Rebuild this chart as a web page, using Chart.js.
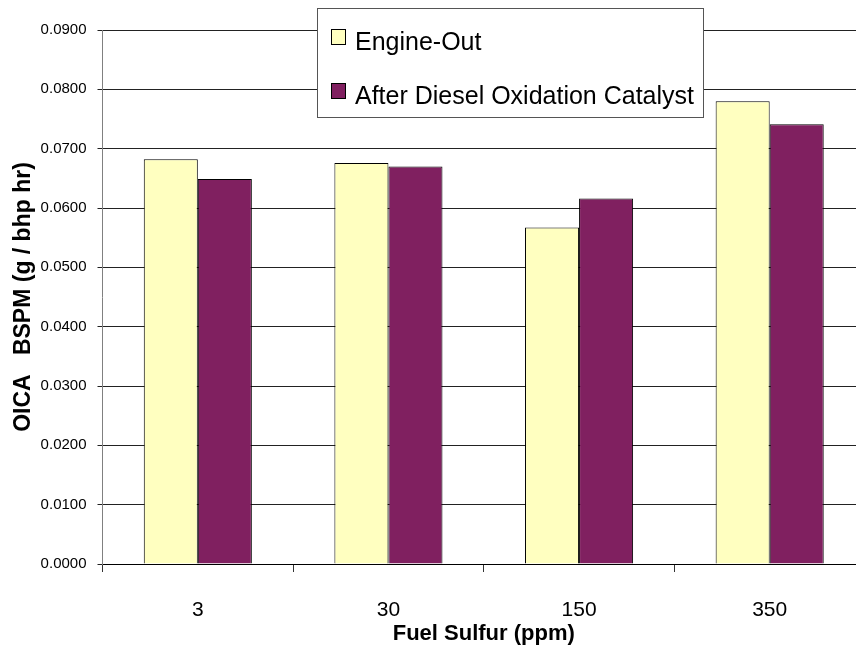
<!DOCTYPE html>
<html>
<head>
<meta charset="utf-8">
<script src="https://cdn.jsdelivr.net/npm/chart.js@4/dist/chart.umd.min.js"></script>
<style>
  html, body { margin:0; padding:0; background:#fff; overflow:hidden; }
  #wrap { width:856px; height:654px; overflow:hidden; }
  canvas { display:block; }
</style>
</head>
<body>
<div id="wrap"><canvas id="chart" width="870" height="654"></canvas></div>
<script>
const categories = ['3', '30', '150', '350'];
const engineOut = [0.0682, 0.0676, 0.0567, 0.0780];
const afterDoc = [0.0649, 0.0670, 0.0616, 0.0741];
const seriesNames = ['Engine-Out', 'After Diesel Oxidation Catalyst'];

const FONT = 'Arial, "Liberation Sans", sans-serif';

// legend box sitting over the plot area, like the spreadsheet original
const boxLegend = {
  id: 'boxLegend',
  afterDraw(chart){
    const {ctx} = chart;
    const x = 317, y = 8, w = 386, h = 109;
    ctx.save();
    ctx.fillStyle = '#fff';
    ctx.fillRect(x, y, w, h);
    ctx.strokeStyle = '#555';
    ctx.lineWidth = 1;
    ctx.strokeRect(x + 0.5, y + 0.5, w, h);
    ctx.font = '25px ' + FONT;
    ctx.textBaseline = 'alphabetic';
    chart.data.datasets.forEach((ds, i) => {
      const sy = 29 + i * 54;
      ctx.fillStyle = ds.backgroundColor;
      ctx.fillRect(331.5, sy + 0.5, 14, 15);
      ctx.strokeStyle = '#000';
      ctx.strokeRect(331.5, sy + 0.5, 14, 15);
      ctx.fillStyle = '#000';
      ctx.fillText(ds.label, 355, 50 + i * 54);
    });
    ctx.restore();
  }
};

new Chart(document.getElementById('chart'), {
  type:'bar',
  data:{
    labels:categories,
    datasets:[
      { label:seriesNames[0], data:engineOut, backgroundColor:'#FFFFC0', borderColor:'#000', borderWidth:1,
        categoryPercentage:0.567, barPercentage:1.0 },
      { label:seriesNames[1], data:afterDoc, backgroundColor:'#802060', borderColor:'#000', borderWidth:1,
        categoryPercentage:0.567, barPercentage:1.0 }
    ]
  },
  options:{
    responsive:false,
    animation:false,
    layout:{ padding:{ left:0, right:5, top:30, bottom:0 } },
    plugins:{ legend:{ display:false }, tooltip:{ enabled:false } },
    scales:{
      x:{
        offset:true,
        grid:{ offset:true, drawOnChartArea:false, drawTicks:true, tickLength:8, color:'#333' },
        border:{ display:true, color:'#000' },
        ticks:{ font:{ family:FONT, size:21 }, color:'#000', padding:26 },
        title:{ display:true, text:'Fuel Sulfur (ppm)', font:{ family:FONT, size:22, weight:'bold' }, color:'#000',
          padding:{ top:0, bottom:7 } },
        afterFit(scale){ scale.height = 90; }
      },
      y:{
        min:0, max:0.09,
        ticks:{ stepSize:0.01, font:{ family:FONT, size:15 }, color:'#000', padding:11,
          callback:v => v.toFixed(4) },
        grid:{ color:'#222', tickLength:5 },
        border:{ display:true, color:'#808080' },
        title:{ display:true, text:'OICA   BSPM (g / bhp hr)', font:{ family:FONT, size:23, weight:'bold' }, color:'#000',
          padding:{ top:10, bottom:0 } },
        afterFit(scale){ scale.width = 102.5; }
      }
    }
  },
  plugins:[boxLegend]
});
</script>
</body>
</html>
